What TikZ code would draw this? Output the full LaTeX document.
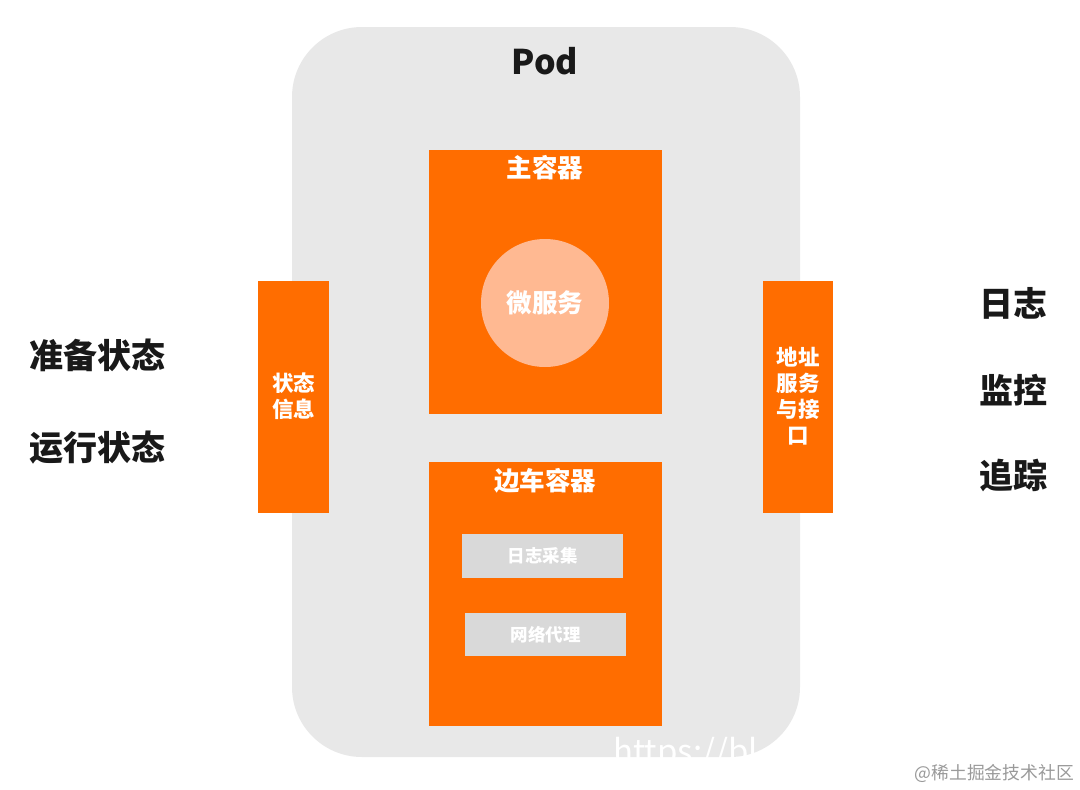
\documentclass[tikz,border=0pt]{standalone}
\usepackage{fontspec}
\setmainfont{Noto Sans CJK SC}
\definecolor{podgray}{HTML}{E8E8E8}
\definecolor{orng}{HTML}{FF6D00}
\definecolor{peach}{HTML}{FFB992}
\definecolor{boxgray}{HTML}{D9D9D9}
\definecolor{wm}{HTML}{9A9A9A}
\begin{document}
\begin{tikzpicture}[x=1pt,y=-1pt,
  orangebox/.style={fill=orng, draw=none, inner sep=0pt},
  graybox/.style={fill=boxgray, draw=none, inner sep=0pt, text=white, font=\bfseries\fontsize{17.5}{20}\selectfont},
  title/.style={text=white, font=\bfseries\fontsize{25.5}{30}\selectfont, inner sep=0pt},
  bartext/.style={text=white, font=\bfseries\fontsize{21.5}{25.8}\selectfont, align=center, inner sep=0pt},
  sidetext/.style={text=black!90, font=\bfseries\fontsize{34}{40}\selectfont, inner sep=0pt}]
\useasboundingbox (0,0) rectangle (1080,790);
\fill[white] (0,0) rectangle (1080,790);
% Pod
\path[fill=podgray, rounded corners=70pt] (292,27) rectangle (800,757);
\node[text=black!90, font=\bfseries\fontsize{34}{40}\selectfont, inner sep=0pt] (pod) at (545,61) {Pod};
% main container
\path[orangebox] (429,150) rectangle (662,414);
\node[title] (main) at (545,168) {主容器};
\node[circle, fill=peach, minimum size=128pt, inner sep=0pt, text=white, font=\bfseries\fontsize{25.5}{30}\selectfont] (ms) at (545,303) {微服务};
% sidecar
\path[orangebox] (429,462) rectangle (662,726);
\node[title] (side) at (545,481) {边车容器};
\node[graybox, minimum width=161pt, minimum height=44pt] (log) at (542.5,556) {日志采集};
\node[graybox, minimum width=161pt, minimum height=43pt] (net) at (545.5,634.5) {网络代理};
% bars
\path[orangebox] (258,281) rectangle (329,513);
\node[bartext] (state) at (293.5,396) {状态\\信息};
\path[orangebox] (763,281) rectangle (833,513);
\node[bartext] (addr) at (798,396) {地址\\服务\\与接\\口};
% side texts
\node[sidetext] (ready) at (98,355) {准备状态};
\node[sidetext] (run) at (98,448) {运行状态};
\node[sidetext] (logt) at (1013,303) {日志};
\node[sidetext] (mon) at (1013,390) {监控};
\node[sidetext] (trace) at (1013,475) {追踪};
% watermarks
\node[text=white, font=\fontsize{33}{36}\selectfont, anchor=west, inner sep=0pt] (url) at (613,754) {https://bl};
\node[text=wm, font=\fontsize{17.8}{20}\selectfont, anchor=east, inner sep=0pt] (jj) at (1074,773) {@稀土掘金技术社区};
\end{tikzpicture}
\end{document}
